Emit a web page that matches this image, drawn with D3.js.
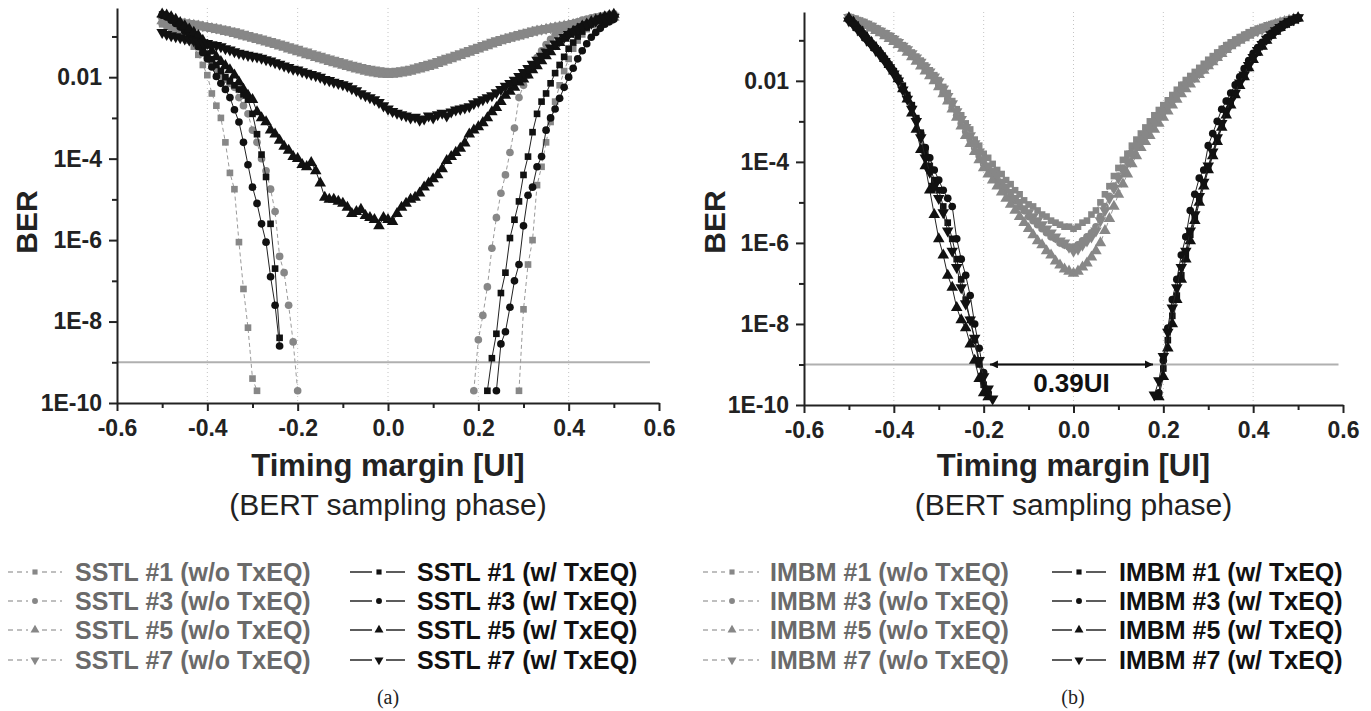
<!DOCTYPE html>
<html>
<head>
<meta charset="utf-8">
<script src="https://cdn.jsdelivr.net/npm/d3@7"></script>
<style>
  body { margin: 0; background: #fff; }
  svg { display: block; font-family: "Liberation Sans", Arial, sans-serif; }
</style>
</head>
<body>
<div id="chart"></div>
<script>
// BERT sampling phase grid [UI]
const phase = [
  -0.5, -0.49, -0.48, -0.47, -0.46, -0.45, -0.44, -0.43, -0.42, -0.41,
  -0.4, -0.39, -0.38, -0.37, -0.36, -0.35, -0.34, -0.33, -0.32, -0.31,
  -0.3, -0.29, -0.28, -0.27, -0.26, -0.25, -0.24, -0.23, -0.22, -0.21,
  -0.2, -0.19, -0.18, -0.17, -0.16, -0.15, -0.14, -0.13, -0.12, -0.11,
  -0.1, -0.09, -0.08, -0.07, -0.06, -0.05, -0.04, -0.03, -0.02, -0.01,
  0, 0.01, 0.02, 0.03, 0.04, 0.05, 0.06, 0.07, 0.08, 0.09,
  0.1, 0.11, 0.12, 0.13, 0.14, 0.15, 0.16, 0.17, 0.18, 0.19,
  0.2, 0.21, 0.22, 0.23, 0.24, 0.25, 0.26, 0.27, 0.28, 0.29,
  0.3, 0.31, 0.32, 0.33, 0.34, 0.35, 0.36, 0.37, 0.38, 0.39,
  0.4, 0.41, 0.42, 0.43, 0.44, 0.45, 0.46, 0.47, 0.48, 0.49, 0.5
];

// all values below are log10(BER). "Left" arrays start at phase -0.5,
// "Right" arrays end at phase 0.5 (no point where no error was counted)

// ---- (a) SSTL ----
const sstl1WoLeft = [-0.7, -0.75, -0.8, -0.86, -0.93, -1.0, -1.1, -1.25, -1.45, -1.7, -1.95, -2.4, -2.7, -3.0, -3.6, -4.35, -4.75, -6.05, -7.2, -8.15, -9.4, -9.7];
const sstl1WoRight = [-9.7, -7.7, -6.6, -6.0, -4.65, -4.2, -3.6, -3.1, -2.6, -2.2, -1.85, -1.55, -1.3, -1.1, -0.95, -0.82, -0.72, -0.64, -0.57, -0.52, -0.48, -0.45];

const sstl3WoLeft = [-0.68, -0.72, -0.76, -0.82, -0.88, -0.95, -1.03, -1.12, -1.22, -1.35, -1.5, -1.65, -1.8, -1.95, -2.05, -2.15, -2.25, -2.5, -2.7, -2.9, -3.3, -3.6, -4.0, -4.3, -4.75, -5.3, -6.4, -6.8, -7.6, -8.5, -9.7];
const sstl3WoRight = [-9.7, -8.45, -7.85, -7.15, -6.2, -5.45, -4.85, -4.4, -3.85, -3.25, -2.5, -2.2, -1.95, -1.72, -1.52, -1.35, -1.2, -1.07, -0.96, -0.87, -0.8, -0.73, -0.68, -0.64, -0.6, -0.57, -0.54, -0.52, -0.5, -0.48, -0.46, -0.45];

const sstl5Wo = [
  -0.62, -0.63, -0.65, -0.66, -0.68, -0.7, -0.71, -0.73, -0.75, -0.77,
  -0.79, -0.81, -0.83, -0.85, -0.88, -0.9, -0.93, -0.96, -0.99, -1.02,
  -1.05, -1.08, -1.11, -1.14, -1.17, -1.2, -1.24, -1.27, -1.31, -1.34,
  -1.38, -1.41, -1.45, -1.48, -1.52, -1.55, -1.58, -1.62, -1.65, -1.68,
  -1.71, -1.74, -1.77, -1.8, -1.83, -1.86, -1.88, -1.9, -1.92, -1.93,
  -1.94, -1.93, -1.92, -1.9, -1.88, -1.86, -1.83, -1.8, -1.77, -1.74,
  -1.71, -1.67, -1.63, -1.59, -1.55, -1.51, -1.47, -1.43, -1.39, -1.35,
  -1.31, -1.27, -1.23, -1.19, -1.15, -1.11, -1.08, -1.05, -1.02, -0.99,
  -0.96, -0.93, -0.9, -0.87, -0.85, -0.83, -0.81, -0.79, -0.77, -0.75,
  -0.73, -0.71, -0.69, -0.67, -0.65, -0.63, -0.61, -0.59, -0.57, -0.55, -0.53
];
const sstl7Wo = [
  -0.58, -0.6, -0.61, -0.63, -0.64, -0.66, -0.68, -0.69, -0.71, -0.73,
  -0.75, -0.77, -0.79, -0.81, -0.83, -0.86, -0.88, -0.91, -0.94, -0.97,
  -1.0, -1.03, -1.06, -1.09, -1.12, -1.15, -1.18, -1.21, -1.25, -1.28,
  -1.31, -1.35, -1.38, -1.42, -1.45, -1.48, -1.52, -1.55, -1.58, -1.61,
  -1.64, -1.67, -1.7, -1.73, -1.76, -1.78, -1.8, -1.82, -1.84, -1.85,
  -1.86, -1.86, -1.85, -1.84, -1.82, -1.8, -1.77, -1.74, -1.71, -1.68,
  -1.65, -1.61, -1.57, -1.53, -1.5, -1.46, -1.42, -1.38, -1.34, -1.3,
  -1.26, -1.22, -1.18, -1.14, -1.1, -1.07, -1.04, -1.01, -0.98, -0.95,
  -0.92, -0.89, -0.86, -0.84, -0.82, -0.8, -0.78, -0.76, -0.74, -0.72,
  -0.7, -0.68, -0.66, -0.64, -0.62, -0.6, -0.58, -0.56, -0.54, -0.52, -0.5
];

const sstl1WLeft = [-0.46, -0.5, -0.56, -0.63, -0.72, -0.82, -0.92, -1.03, -1.15, -1.28, -1.42, -1.56, -1.7, -1.85, -2.0, -2.1, -2.2, -2.3, -2.42, -2.55, -2.9, -3.4, -3.9, -4.45, -5.6, -6.7, -8.4];
const sstl1WRight = [-9.7, -8.9, -8.3, -7.3, -6.8, -5.95, -5.5, -5.05, -4.4, -3.95, -3.35, -2.9, -2.6, -2.4, -2.15, -1.9, -1.7, -1.5, -1.3, -1.15, -1.0, -0.88, -0.78, -0.7, -0.62, -0.56, -0.52, -0.5, -0.5];

const sstl3WLeft = [-0.48, -0.52, -0.6, -0.68, -0.77, -0.87, -0.98, -1.1, -1.25, -1.4, -1.55, -1.75, -1.98, -2.15, -2.3, -2.5, -2.8, -3.1, -3.6, -4.15, -4.7, -5.1, -5.6, -6.05, -6.9, -7.6, -8.6];
const sstl3WRight = [-9.7, -8.55, -8.25, -7.65, -7.0, -6.6, -5.65, -4.9, -4.7, -4.2, -3.95, -3.3, -3.0, -2.78, -2.52, -2.25, -2.0, -1.78, -1.55, -1.35, -1.18, -1.02, -0.9, -0.8, -0.7, -0.64, -0.58];

const sstl5W = [
  -0.45, -0.48, -0.52, -0.58, -0.66, -0.74, -0.82, -0.9, -0.98, -1.1,
  -1.22, -1.36, -1.5, -1.62, -1.72, -1.82, -1.95, -2.12, -2.3, -2.45,
  -2.55, -2.85, -3.0, -3.1, -3.3, -3.4, -3.55, -3.7, -3.8, -3.95,
  -4.0, -4.15, -4.2, -4.1, -4.3, -4.6, -4.95, -5.0, -5.0, -5.05,
  -5.1, -5.2, -5.35, -5.3, -5.25, -5.4, -5.45, -5.5, -5.65, -5.45,
  -5.5, -5.55, -5.35, -5.2, -5.1, -5.0, -4.95, -4.85, -4.7, -4.6,
  -4.5, -4.4, -4.25, -4.05, -3.95, -3.85, -3.75, -3.62, -3.4, -3.3,
  -3.22, -3.12, -3.0, -2.85, -2.75, -2.6, -2.45, -2.35, -2.25, -2.12,
  -2.05, -1.95, -1.82, -1.72, -1.6, -1.48, -1.38, -1.25, -1.15, -1.05,
  -0.95, -0.88, -0.82, -0.75, -0.7, -0.64, -0.6, -0.56, -0.52, -0.49, -0.46
];
const sstl7W = [
  -0.9, -0.95, -0.98, -1.0, -1.03, -1.06, -1.08, -1.1, -1.13, -1.15,
  -1.17, -1.2, -1.22, -1.25, -1.3, -1.33, -1.37, -1.41, -1.43, -1.46,
  -1.48, -1.5, -1.53, -1.57, -1.6, -1.64, -1.68, -1.72, -1.76, -1.8,
  -1.82, -1.86, -1.9, -1.93, -1.96, -2.0, -2.05, -2.08, -2.12, -2.15,
  -2.18, -2.22, -2.28, -2.33, -2.4, -2.45, -2.5, -2.55, -2.62, -2.7,
  -2.78, -2.84, -2.88, -2.92, -2.95, -3.0, -2.98, -3.05, -3.02, -2.95,
  -3.0, -2.92, -2.88, -2.95, -2.85, -2.8, -2.78, -2.75, -2.72, -2.65,
  -2.6, -2.55, -2.5, -2.45, -2.38, -2.3, -2.22, -2.15, -2.07, -1.98,
  -1.88, -1.78, -1.68, -1.58, -1.48, -1.38, -1.28, -1.18, -1.1, -1.02,
  -0.95, -0.88, -0.82, -0.76, -0.71, -0.67, -0.63, -0.6, -0.57, -0.55, -0.53
];

// ---- (b) IMBM ----
const imbm1Wo = [
  -0.42, -0.46, -0.5, -0.54, -0.59, -0.64, -0.7, -0.76, -0.82, -0.88,
  -0.95, -1.03, -1.12, -1.2, -1.3, -1.4, -1.5, -1.62, -1.74, -1.86,
  -1.98, -2.15, -2.3, -2.5, -2.7, -2.85, -3.05, -3.2, -3.45, -3.6,
  -3.8, -3.9, -4.05, -4.2, -4.3, -4.45, -4.55, -4.7, -4.8, -4.95,
  -5.05, -5.1, -5.2, -5.3, -5.35, -5.45, -5.5, -5.55, -5.6, -5.6,
  -5.65, -5.6, -5.5, -5.45, -5.3, -5.2, -5.0, -4.8, -4.6, -4.35,
  -4.15, -3.95, -3.8, -3.6, -3.45, -3.3, -3.15, -3.0, -2.85, -2.72,
  -2.6, -2.48, -2.35, -2.22, -2.1, -1.98, -1.88, -1.78, -1.68, -1.58,
  -1.48, -1.39, -1.3, -1.21, -1.12, -1.05, -0.98, -0.92, -0.86, -0.8,
  -0.75, -0.71, -0.67, -0.63, -0.6, -0.57, -0.54, -0.51, -0.48, -0.46, -0.44
];
const imbm3Wo = [
  -0.45, -0.49, -0.53, -0.57, -0.62, -0.67, -0.73, -0.79, -0.86, -0.93,
  -1.0, -1.08, -1.17, -1.27, -1.37, -1.48, -1.6, -1.72, -1.84, -1.97,
  -2.1, -2.28, -2.45, -2.65, -2.85, -3.05, -3.25, -3.45, -3.65, -3.85,
  -4.05, -4.15, -4.3, -4.45, -4.55, -4.7, -4.85, -4.95, -5.1, -5.2,
  -5.35, -5.45, -5.55, -5.65, -5.75, -5.85, -5.9, -6.0, -6.05, -6.1,
  -6.1, -6.05, -5.95, -5.85, -5.75, -5.6, -5.35, -5.1, -4.85, -4.6,
  -4.35, -4.15, -3.95, -3.75, -3.6, -3.45, -3.3, -3.15, -3.0, -2.88,
  -2.75, -2.6, -2.47, -2.34, -2.2, -2.08, -1.98, -1.88, -1.78, -1.68,
  -1.58, -1.48, -1.38, -1.28, -1.18, -1.1, -1.03, -0.97, -0.91, -0.85,
  -0.79, -0.75, -0.71, -0.67, -0.63, -0.59, -0.56, -0.53, -0.5, -0.47, -0.44
];
const imbm5Wo = [
  -0.46, -0.5, -0.54, -0.59, -0.64, -0.7, -0.76, -0.82, -0.89, -0.96,
  -1.03, -1.11, -1.2, -1.3, -1.41, -1.52, -1.64, -1.76, -1.88, -2.0,
  -2.15, -2.32, -2.5, -2.7, -2.9, -3.12, -3.35, -3.55, -3.75, -3.95,
  -4.15, -4.3, -4.45, -4.6, -4.75, -4.9, -5.05, -5.2, -5.35, -5.5,
  -5.65, -5.8, -5.95, -6.05, -6.2, -6.3, -6.45, -6.55, -6.65, -6.7,
  -6.75, -6.7, -6.6, -6.5, -6.35, -6.2, -6.0, -5.7, -5.4, -5.1,
  -4.8, -4.55, -4.3, -4.05, -3.85, -3.65, -3.5, -3.35, -3.2, -3.05,
  -2.9, -2.75, -2.6, -2.46, -2.32, -2.2, -2.08, -1.96, -1.85, -1.74,
  -1.63, -1.53, -1.43, -1.33, -1.23, -1.14, -1.07, -1.0, -0.94, -0.88,
  -0.82, -0.77, -0.73, -0.69, -0.65, -0.61, -0.57, -0.54, -0.51, -0.48, -0.45
];
const imbm7Wo = [
  -0.43, -0.47, -0.51, -0.55, -0.6, -0.65, -0.71, -0.77, -0.83, -0.9,
  -0.97, -1.05, -1.14, -1.23, -1.33, -1.43, -1.54, -1.66, -1.78, -1.9,
  -2.02, -2.2, -2.38, -2.56, -2.76, -2.95, -3.15, -3.35, -3.55, -3.75,
  -3.95, -4.1, -4.22, -4.35, -4.5, -4.62, -4.75, -4.9, -5.0, -5.15,
  -5.25, -5.35, -5.45, -5.55, -5.65, -5.75, -5.85, -5.95, -6.0, -6.1,
  -6.2, -6.15, -6.05, -5.95, -5.85, -5.7, -5.45, -5.2, -4.9, -4.65,
  -4.4, -4.2, -4.0, -3.8, -3.62, -3.48, -3.33, -3.18, -3.03, -2.9,
  -2.77, -2.63, -2.5, -2.37, -2.24, -2.1, -2.0, -1.9, -1.8, -1.7,
  -1.6, -1.5, -1.4, -1.3, -1.2, -1.12, -1.05, -0.98, -0.92, -0.86,
  -0.8, -0.76, -0.72, -0.68, -0.64, -0.6, -0.57, -0.54, -0.5, -0.47, -0.44
];

const imbm1WLeft = [-0.48, -0.58, -0.7, -0.83, -0.96, -1.08, -1.2, -1.33, -1.46, -1.6, -1.76, -1.93, -2.12, -2.35, -2.6, -2.92, -3.28, -3.75, -4.1, -4.45, -4.7, -5.1, -5.5, -5.9, -6.4, -6.9, -7.4, -7.9, -8.4, -9.0, -9.5, -9.75];
const imbm1WRight = [-9.75, -9.1, -8.4, -7.8, -7.3, -6.8, -6.3, -5.8, -5.35, -4.9, -4.5, -4.15, -3.8, -3.45, -3.1, -2.8, -2.55, -2.3, -2.1, -1.9, -1.68, -1.47, -1.3, -1.14, -1.0, -0.88, -0.78, -0.7, -0.62, -0.56, -0.5, -0.46];
const imbm3WLeft = [-0.5, -0.6, -0.72, -0.85, -0.98, -1.1, -1.22, -1.35, -1.5, -1.65, -1.8, -1.98, -2.2, -2.4, -2.65, -2.95, -3.3, -3.65, -3.9, -4.2, -4.45, -4.7, -4.9, -5.1, -5.9, -6.4, -6.8, -7.3, -8.0, -8.6, -9.2, -9.7];
const imbm3WRight = [-9.7, -8.9, -8.1, -7.4, -6.9, -6.3, -5.85, -5.2, -4.8, -4.4, -4.2, -3.6, -3.3, -3.0, -2.7, -2.5, -2.3, -2.1, -1.9, -1.7, -1.5, -1.32, -1.18, -1.05, -0.93, -0.83, -0.74, -0.66, -0.59, -0.53, -0.49, -0.45];
const imbm5WLeft = [-0.45, -0.55, -0.68, -0.8, -0.93, -1.05, -1.18, -1.3, -1.45, -1.6, -1.76, -1.95, -2.2, -2.45, -2.8, -3.2, -3.7, -4.1, -4.7, -5.3, -5.9, -6.3, -6.8, -7.1, -7.6, -7.9, -8.1, -8.5, -8.9, -9.35, -9.7, -9.8];
const imbm5WRight = [-9.8, -9.3, -8.6, -8.0, -7.4, -6.9, -6.4, -5.95, -5.45, -5.0, -4.6, -4.2, -3.85, -3.5, -3.15, -2.85, -2.6, -2.35, -2.12, -1.9, -1.68, -1.48, -1.3, -1.15, -1.0, -0.88, -0.78, -0.69, -0.61, -0.55, -0.5, -0.45];
const imbm7WLeft = [-0.52, -0.62, -0.74, -0.87, -1.0, -1.12, -1.25, -1.38, -1.52, -1.67, -1.83, -2.0, -2.22, -2.45, -2.7, -3.0, -3.4, -3.9, -4.25, -4.6, -4.9, -5.25, -5.7, -6.2, -6.6, -7.1, -7.5, -7.9, -8.35, -8.9, -9.3, -9.6, -9.85];
const imbm7WRight = [-9.75, -9.4, -8.8, -8.2, -7.6, -7.1, -6.6, -6.2, -5.7, -5.3, -4.85, -4.5, -4.1, -3.75, -3.4, -3.05, -2.75, -2.5, -2.3, -2.05, -1.85, -1.62, -1.42, -1.25, -1.1, -0.97, -0.86, -0.76, -0.68, -0.6, -0.54, -0.49, -0.44];

// legend labels
const labelsA = [
  "SSTL #1 (w/o TxEQ)", "SSTL #3 (w/o TxEQ)", "SSTL #5 (w/o TxEQ)", "SSTL #7 (w/o TxEQ)",
  "SSTL #1 (w/ TxEQ)", "SSTL #3 (w/ TxEQ)", "SSTL #5 (w/ TxEQ)", "SSTL #7 (w/ TxEQ)"
];
const labelsB = [
  "IMBM #1 (w/o TxEQ)", "IMBM #3 (w/o TxEQ)", "IMBM #5 (w/o TxEQ)", "IMBM #7 (w/o TxEQ)",
  "IMBM #1 (w/ TxEQ)", "IMBM #3 (w/ TxEQ)", "IMBM #5 (w/ TxEQ)", "IMBM #7 (w/ TxEQ)"
];

// axes
const xMajor = [-0.6, -0.4, -0.2, 0, 0.2, 0.4, 0.6];
const xTickLabels = ["-0.6", "-0.4", "-0.2", "0.0", "0.2", "0.4", "0.6"];
const xMinor = [-0.5, -0.3, -0.1, 0.1, 0.3, 0.5];
const xGrid = [-0.4, -0.2, 0, 0.2, 0.4];
const yMajor = [1e-10, 1e-8, 1e-6, 1e-4, 1e-2];
const yTickLabels = ["1E-10", "1E-8", "1E-6", "1E-4", "0.01"];
const yMinor = [1e-9, 1e-7, 1e-5, 1e-3, 1e-1];
const berTarget = 1e-9;
const marginSpan = [-0.186, 0.177];
const marginLabel = "0.39UI";

const W = 1371, H = 711;
const svg = d3.select("#chart").append("svg").attr("width", W).attr("height", H);

const symbolType = {
  square: d3.symbolSquare, circle: d3.symbolCircle, up: d3.symbolTriangle, down: d3.symbolTriangle
};
const symbolSize = { square: 44, circle: 46, up: 58, down: 58 };

function symbolPath(shape, scale = 1) {
  return d3.symbol().type(symbolType[shape]).size(symbolSize[shape] * scale)();
}

function toPoints(left, right) {
  const branches = [];
  if (left && left.length) branches.push(left.map((v, i) => ({ x: phase[i], y: 10 ** v })));
  if (right && right.length) {
    const off = phase.length - right.length;
    branches.push(right.map((v, i) => ({ x: phase[off + i], y: 10 ** v })));
  }
  return branches;
}

const seriesA = [
  { branches: toPoints(sstl1WoLeft, sstl1WoRight), shape: "square", eq: false },
  { branches: toPoints(sstl3WoLeft, sstl3WoRight), shape: "circle", eq: false },
  { branches: toPoints(sstl5Wo), shape: "up", eq: false },
  { branches: toPoints(sstl7Wo), shape: "down", eq: false },
  { branches: toPoints(sstl1WLeft, sstl1WRight), shape: "square", eq: true },
  { branches: toPoints(sstl3WLeft, sstl3WRight), shape: "circle", eq: true },
  { branches: toPoints(sstl5W), shape: "up", eq: true },
  { branches: toPoints(sstl7W), shape: "down", eq: true }
];
const seriesB = [
  { branches: toPoints(imbm1Wo), shape: "square", eq: false },
  { branches: toPoints(imbm3Wo), shape: "circle", eq: false },
  { branches: toPoints(imbm5Wo), shape: "up", eq: false },
  { branches: toPoints(imbm7Wo), shape: "down", eq: false },
  { branches: toPoints(imbm1WLeft, imbm1WRight), shape: "square", eq: true },
  { branches: toPoints(imbm3WLeft, imbm3WRight), shape: "circle", eq: true },
  { branches: toPoints(imbm5WLeft, imbm5WRight), shape: "up", eq: true },
  { branches: toPoints(imbm7WLeft, imbm7WRight), shape: "down", eq: true }
];

const GRAY_MARK = "#878787", GRAY_LINE = "#9a9a9a", GRAY_TEXT = "#6a6a6a", INK = "#111";

svg.append("defs").append("marker")
  .attr("id", "arrow")
  .attr("viewBox", "0 0 10 10")
  .attr("refX", 10).attr("refY", 5)
  .attr("markerWidth", 8).attr("markerHeight", 8)
  .attr("markerUnits", "userSpaceOnUse")
  .attr("orient", "auto-start-reverse")
  .append("path").attr("d", "M0,0 L10,5 L0,10 z").attr("fill", INK);

function renderPanel({ xRange, yRange, series, labels, thresholdEnd, berX, legend, tag, tagX, annotate }) {
  const x = d3.scaleLinear().domain([-0.6, 0.6]).range(xRange);
  const y = d3.scaleLog().domain([1e-10, 0.5]).range(yRange);
  const g = svg.append("g");

  // dotted grid
  g.selectAll(".grid").data(xGrid).enter().append("line")
    .attr("x1", d => x(d)).attr("x2", d => x(d))
    .attr("y1", y(0.5)).attr("y2", y(1e-10))
    .attr("stroke", "#c4c4c4").attr("stroke-width", 1).attr("stroke-dasharray", "1,3");

  // BER target line
  g.append("line")
    .attr("x1", x(-0.6)).attr("x2", x(thresholdEnd))
    .attr("y1", y(berTarget)).attr("y2", y(berTarget))
    .attr("stroke", "#b0b0b0").attr("stroke-width", 2);

  const line = d3.line().x(d => x(d.x)).y(d => y(d.y));

  // w/o first, w/ on top
  series.forEach(s => {
    const color = s.eq ? INK : GRAY_MARK;
    s.branches.forEach(b => {
      g.append("path").datum(b).attr("d", line)
        .attr("fill", "none")
        .attr("stroke", s.eq ? "#222" : GRAY_LINE)
        .attr("stroke-width", 1)
        .attr("stroke-dasharray", s.eq ? null : "4,3");
      g.selectAll(null).data(b).enter().append("path")
        .attr("d", symbolPath(s.shape))
        .attr("transform", d => `translate(${x(d.x)},${y(d.y)})${s.shape === "down" ? " rotate(180)" : ""}`)
        .attr("fill", color);
    });
  });

  // axes
  const xAxis = g.append("g").attr("transform", `translate(0,${yRange[0]})`)
    .call(d3.axisBottom(x).tickValues(xMajor).tickSize(8).tickSizeOuter(0).tickPadding(9)
      .tickFormat((d, i) => xTickLabels[i]));
  g.append("g").attr("transform", `translate(0,${yRange[0]})`)
    .call(d3.axisBottom(x).tickValues(xMinor).tickSize(5).tickFormat(""))
    .select(".domain").remove();
  const yAxis = g.append("g").attr("transform", `translate(${xRange[0]},0)`)
    .call(d3.axisLeft(y).tickValues(yMajor).tickSize(8).tickSizeOuter(0).tickPadding(7)
      .tickFormat((d, i) => yTickLabels[i]));
  g.append("g").attr("transform", `translate(${xRange[0]},0)`)
    .call(d3.axisLeft(y).tickValues(yMinor).tickSize(5).tickFormat(""))
    .select(".domain").remove();

  g.selectAll(".domain").attr("stroke", "#222").attr("stroke-width", 2);
  g.selectAll(".tick line").attr("stroke", "#222").attr("stroke-width", 2);
  [xAxis, yAxis].forEach(a => a.selectAll("text")
    .attr("font-family", "'Liberation Sans', Arial, sans-serif")
    .attr("font-size", 23).attr("font-weight", "bold").attr("fill", "#222"));

  // titles
  g.append("text")
    .attr("transform", `translate(${berX},222) rotate(-90)`)
    .attr("text-anchor", "middle").attr("dy", "0.36em")
    .attr("font-size", 30).attr("font-weight", "bold").attr("fill", "#222")
    .text("BER");
  g.append("text")
    .attr("x", x(0)).attr("y", 476).attr("text-anchor", "middle")
    .attr("font-size", 31).attr("font-weight", "bold").attr("fill", "#222")
    .text("Timing margin [UI]");
  g.append("text")
    .attr("x", x(0)).attr("y", 515).attr("text-anchor", "middle")
    .attr("font-size", 30).attr("fill", "#222")
    .text("(BERT sampling phase)");

  if (annotate) {
    g.append("line")
      .attr("x1", x(marginSpan[0])).attr("x2", x(marginSpan[1]))
      .attr("y1", y(berTarget)).attr("y2", y(berTarget))
      .attr("stroke", INK).attr("stroke-width", 2)
      .attr("marker-start", "url(#arrow)").attr("marker-end", "url(#arrow)");
    g.append("text")
      .attr("x", x((marginSpan[0] + marginSpan[1]) / 2)).attr("y", 392)
      .attr("text-anchor", "middle")
      .attr("font-size", 26).attr("font-weight", "bold").attr("fill", INK)
      .text(marginLabel);
  }

  // legend
  const rowY = [572, 601, 630, 660];
  series.forEach((s, i) => {
    const col = s.eq ? legend[1] : legend[0];
    const ry = rowY[i % 4];
    const lg = g.append("g");
    [[col.x0, col.m - 7], [col.m + 7, col.x1]].forEach(([a, b]) => {
      lg.append("line")
        .attr("x1", a).attr("x2", b).attr("y1", ry).attr("y2", ry)
        .attr("stroke", s.eq ? "#333" : "#aaa").attr("stroke-width", 1.6)
        .attr("stroke-dasharray", s.eq ? null : "5,4");
    });
    lg.append("path")
      .attr("d", symbolPath(s.shape, 0.6))
      .attr("transform", `translate(${col.m},${ry})${s.shape === "down" ? " rotate(180)" : ""}`)
      .attr("fill", s.eq ? INK : GRAY_MARK);
    lg.append("text")
      .attr("x", col.t).attr("y", ry + 8.5)
      .attr("font-size", 25).attr("font-weight", "bold")
      .attr("fill", s.eq ? INK : GRAY_TEXT)
      .text(labels[i]);
  });

  g.append("text")
    .attr("x", tagX).attr("y", 704).attr("text-anchor", "middle")
    .attr("font-family", "'Liberation Serif', 'Times New Roman', serif")
    .attr("font-size", 20).attr("fill", "#222")
    .text(tag);
}

renderPanel({
  xRange: [117, 659], yRange: [403, 8], series: seriesA, labels: labelsA,
  thresholdEnd: 0.58, berX: 26, tag: "(a)", tagX: 388,
  legend: [{ x0: 8, x1: 62, m: 35, t: 75 }, { x0: 350, x1: 405, m: 379, t: 417 }]
});
renderPanel({
  xRange: [804, 1343], yRange: [405, 12], series: seriesB, labels: labelsB,
  thresholdEnd: 0.59, berX: 714, tag: "(b)", tagX: 1073, annotate: true,
  legend: [{ x0: 703, x1: 759, m: 732, t: 770 }, { x0: 1052, x1: 1106, m: 1079, t: 1119 }]
});
</script>
</body>
</html>
